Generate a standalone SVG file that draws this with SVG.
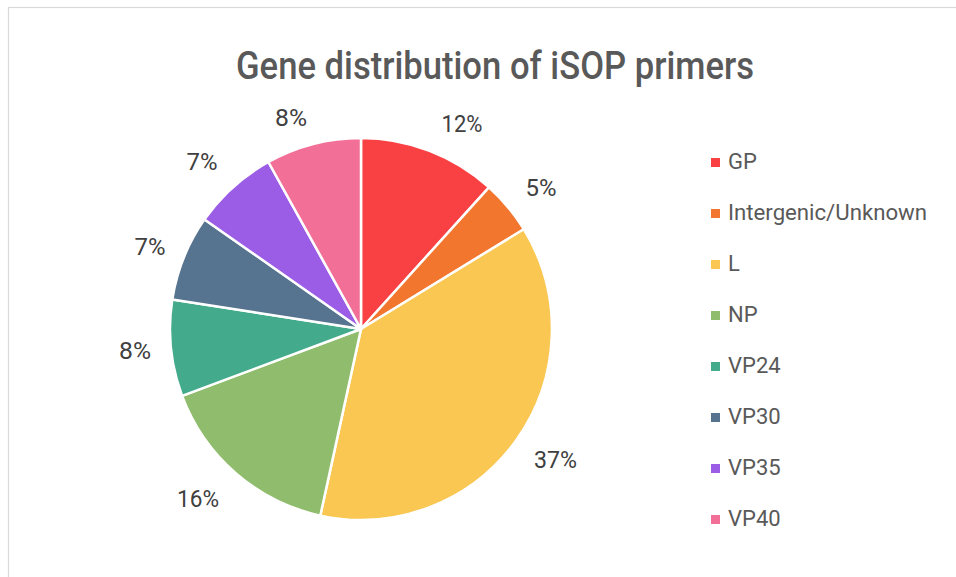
<svg xmlns="http://www.w3.org/2000/svg" width="956" height="577" viewBox="0 0 956 577">
  <style>
    .title { font-family: Roboto, "Liberation Sans", sans-serif; font-size: 39px; font-weight: 500; fill: #595959; }
    .pct { font-family: Roboto, "Liberation Sans", sans-serif; font-size: 23.5px; fill: #404040; text-anchor: middle; }
    .leg { font-family: Roboto, "Liberation Sans", sans-serif; font-size: 22px; fill: #595959; }
    .slice { stroke: #ffffff; stroke-width: 2.5; stroke-linejoin: round; }
  </style>

  <!-- chart area -->
  <rect x="0" y="0" width="956" height="577" fill="#ffffff"/>
  <rect x="8.5" y="7.5" width="960" height="590" fill="none" stroke="#d9d9d9" stroke-width="1.2"/>

  <text class="title" x="495" y="79" text-anchor="middle" textLength="518" lengthAdjust="spacingAndGlyphs">Gene distribution of iSOP primers</text>

  <!-- pie slices, centre (361,329), r = 191 -->
  <g id="pie">
    <g id="slice-gp"><path class="slice" fill="#F94144" d="M361,329 L361,138 A191,191 0 0 1 489.0,187.3 Z"/></g>
    <g id="slice-intergenic"><path class="slice" fill="#F3762F" d="M361,329 L489.0,187.3 A191,191 0 0 1 523.8,229.2 Z"/></g>
    <g id="slice-l"><path class="slice" fill="#F9C752" d="M361,329 L523.8,229.2 A191,191 0 0 1 320.3,515.6 Z"/></g>
    <g id="slice-np"><path class="slice" fill="#90BD6D" d="M361,329 L320.3,515.6 A191,191 0 0 1 182.1,395.9 Z"/></g>
    <g id="slice-vp24"><path class="slice" fill="#43AA8B" d="M361,329 L182.1,395.9 A191,191 0 0 1 172.3,299.5 Z"/></g>
    <g id="slice-vp30"><path class="slice" fill="#56738F" d="M361,329 L172.3,299.5 A191,191 0 0 1 204.5,219.4 Z"/></g>
    <g id="slice-vp35"><path class="slice" fill="#9B5DE5" d="M361,329 L204.5,219.4 A191,191 0 0 1 268.4,162.0 Z"/></g>
    <g id="slice-vp40"><path class="slice" fill="#F27098" d="M361,329 L268.4,162.0 A191,191 0 0 1 361,138 Z"/></g>
  </g>

  <!-- data labels -->
  <g id="labels">
    <text class="pct" x="462" y="132" textLength="41" lengthAdjust="spacingAndGlyphs">12%</text>
    <text class="pct" x="541" y="196" textLength="31" lengthAdjust="spacingAndGlyphs">5%</text>
    <text class="pct" x="555.5" y="468" textLength="43" lengthAdjust="spacingAndGlyphs">37%</text>
    <text class="pct" x="198" y="507" textLength="42" lengthAdjust="spacingAndGlyphs">16%</text>
    <text class="pct" x="135" y="359" textLength="32" lengthAdjust="spacingAndGlyphs">8%</text>
    <text class="pct" x="150" y="255" textLength="31" lengthAdjust="spacingAndGlyphs">7%</text>
    <text class="pct" x="202" y="170" textLength="31" lengthAdjust="spacingAndGlyphs">7%</text>
    <text class="pct" x="291" y="126" textLength="32" lengthAdjust="spacingAndGlyphs">8%</text>
  </g>

  <!-- legend -->
  <g id="legend">
    <g id="leg-gp"><rect x="711" y="158" width="9" height="9" fill="#F94144"/><text class="leg" x="728" y="169">GP</text></g>
    <g id="leg-intergenic"><rect x="711" y="209" width="9" height="9" fill="#F3762F"/><text class="leg" x="728" y="220" textLength="199" lengthAdjust="spacingAndGlyphs">Intergenic/Unknown</text></g>
    <g id="leg-l"><rect x="711" y="260" width="9" height="9" fill="#F9C752"/><text class="leg" x="728" y="271">L</text></g>
    <g id="leg-np"><rect x="711" y="311" width="9" height="9" fill="#90BD6D"/><text class="leg" x="728" y="322">NP</text></g>
    <g id="leg-vp24"><rect x="711" y="362" width="9" height="9" fill="#43AA8B"/><text class="leg" x="728" y="373">VP24</text></g>
    <g id="leg-vp30"><rect x="711" y="413" width="9" height="9" fill="#56738F"/><text class="leg" x="728" y="424">VP30</text></g>
    <g id="leg-vp35"><rect x="711" y="464" width="9" height="9" fill="#9B5DE5"/><text class="leg" x="728" y="475">VP35</text></g>
    <g id="leg-vp40"><rect x="711" y="515" width="9" height="9" fill="#F27098"/><text class="leg" x="728" y="526">VP40</text></g>
  </g>
</svg>
